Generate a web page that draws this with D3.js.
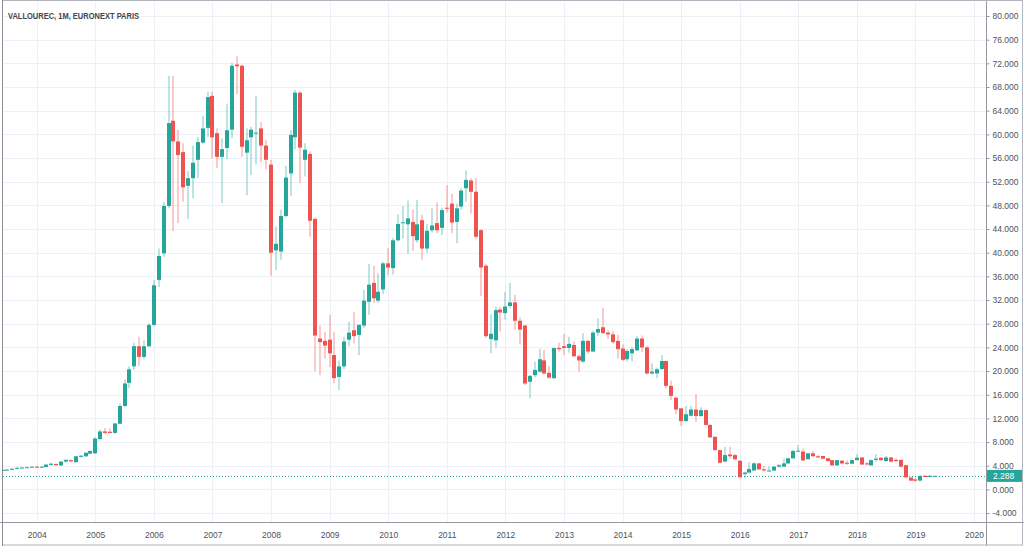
<!DOCTYPE html>
<html><head><meta charset="utf-8">
<script src="https://cdn.jsdelivr.net/npm/d3@7"></script>
<style>html,body{margin:0;padding:0;background:#fff;} svg{display:block;}</style>
</head><body>
<svg id="chart" width="1024" height="546"></svg>
<script>
// ---- DATA (monthly candles, Vallourec, Euronext Paris) ----
const months = [
 "2003-06","2003-07","2003-08","2003-09","2003-10","2003-11","2003-12",
 "2004-01","2004-02","2004-03","2004-04","2004-05","2004-06","2004-07","2004-08","2004-09","2004-10","2004-11","2004-12",
 "2005-01","2005-02","2005-03","2005-04","2005-05","2005-06","2005-07","2005-08","2005-09","2005-10","2005-11","2005-12",
 "2006-01","2006-02","2006-03","2006-04","2006-05","2006-06","2006-07","2006-08","2006-09","2006-10","2006-11","2006-12",
 "2007-01","2007-02","2007-03","2007-04","2007-05","2007-06","2007-07","2007-08","2007-09","2007-10","2007-11","2007-12",
 "2008-01","2008-02","2008-03","2008-04","2008-05","2008-06","2008-07","2008-08","2008-09","2008-10","2008-11","2008-12",
 "2009-01","2009-02","2009-03","2009-04","2009-05","2009-06","2009-07","2009-08","2009-09","2009-10","2009-11","2009-12",
 "2010-01","2010-02","2010-03","2010-04","2010-05","2010-06","2010-07","2010-08","2010-09","2010-10","2010-11","2010-12",
 "2011-01","2011-02","2011-03","2011-04","2011-05","2011-06","2011-07","2011-08","2011-09","2011-10","2011-11","2011-12",
 "2012-01","2012-02","2012-03","2012-04","2012-05","2012-06","2012-07","2012-08","2012-09","2012-10","2012-11","2012-12",
 "2013-01","2013-02","2013-03","2013-04","2013-05","2013-06","2013-07","2013-08","2013-09","2013-10","2013-11","2013-12",
 "2014-01","2014-02","2014-03","2014-04","2014-05","2014-06","2014-07","2014-08","2014-09","2014-10","2014-11","2014-12",
 "2015-01","2015-02","2015-03","2015-04","2015-05","2015-06","2015-07","2015-08","2015-09","2015-10","2015-11","2015-12",
 "2016-01","2016-02","2016-03","2016-04","2016-05","2016-06","2016-07","2016-08","2016-09","2016-10","2016-11","2016-12",
 "2017-01","2017-02","2017-03","2017-04","2017-05","2017-06","2017-07","2017-08","2017-09","2017-10","2017-11","2017-12",
 "2018-01","2018-02","2018-03","2018-04","2018-05","2018-06","2018-07","2018-08","2018-09","2018-10","2018-11","2018-12",
 "2019-01","2019-02","2019-03","2019-04","2019-05"
];
const open = [
 3.2,3.3,3.35,3.5,3.65,3.7,3.75,
 3.85,3.75,3.8,4.15,4.3,4.05,4.7,4.95,4.6,5.5,5.6,6.05,
 6.1,8.5,9.8,9.75,9.55,11.1,14.1,18.0,20.8,24.2,22.4,24.2,
 27.8,35.4,39.9,47.9,62.3,58.8,57.0,51.3,52.6,55.7,58.6,61.1,
 66.5,60.2,56.2,57.7,60.8,71.8,71.6,56.9,59.5,60.2,61.0,58.1,
 54.9,40.4,40.2,46.2,53.4,59.5,67.05,55.7,56.7,45.7,25.5,25.1,
 25.3,22.7,19.0,20.8,25.3,26.9,26.1,27.7,31.7,34.9,31.9,33.8,
 38.2,37.4,42.1,45.0,44.8,45.2,42.1,45.5,40.7,43.8,45.0,44.2,
 47.6,48.3,45.2,47.8,50.9,52.2,50.3,43.8,37.8,25.4,25.2,30.4,
 29.8,31.0,31.6,28.5,27.7,18.2,19.3,19.9,21.8,19.7,18.8,23.9,
 24.2,23.9,24.4,22.5,21.6,25.1,23.3,26.5,27.4,26.5,26.2,25.1,
 23.8,22.0,23.0,23.5,25.5,24.0,19.6,19.6,20.35,21.7,17.5,15.5,
 13.7,11.55,12.45,13.5,12.4,13.4,10.9,8.9,6.65,4.7,5.9,5.8,
 4.85,2.6,2.85,3.2,4.4,3.4,3.05,3.2,3.85,3.85,4.4,5.25,
 6.4,6.4,5.1,6.1,5.6,5.65,5.25,4.95,4.06,4.85,4.5,4.35,
 4.95,5.4,4.4,4.06,5.0,5.35,4.8,5.4,5.0,5.0,4.1,2.0,
 1.7,1.5,2.3,2.1,2.27
];
const high = [
 3.4,3.45,3.6,3.75,3.8,3.85,3.9,
 3.95,3.9,4.25,4.45,4.4,4.75,5.05,5.05,5.65,5.8,6.25,6.6,
 8.8,10.1,10.4,10.3,11.2,14.5,18.6,20.8,24.8,25.8,25.2,28.1,
 35.4,40.7,48.6,69.9,69.9,60.8,58.5,53.8,58.1,59.5,63.1,67.2,
 67.2,61.0,59.3,65.2,72.1,73.2,71.8,61.0,61.3,66.5,62.1,59.0,
 55.7,44.4,47.3,54.7,60.7,67.5,67.3,58.5,57.1,46.0,27.7,26.6,
 29.5,26.6,21.8,25.8,28.3,30.0,27.9,33.7,38.1,37.8,36.5,38.5,
 40.8,42.5,46.5,47.9,48.8,47.3,48.9,46.4,44.9,47.5,48.5,47.6,
 51.4,50.0,48.3,50.9,53.9,52.6,52.6,44.0,38.0,29.6,30.9,30.9,
 33.4,34.9,32.9,29.1,27.8,19.3,21.6,23.8,23.6,20.8,23.9,24.8,
 26.3,25.8,25.0,22.8,26.4,25.2,26.8,28.9,30.7,26.9,26.8,26.1,
 24.5,23.7,24.1,25.9,26.0,24.3,21.3,20.6,22.7,21.8,18.4,15.6,
 13.7,14.1,14.1,16.1,13.9,13.5,11.0,8.9,6.7,7.2,7.2,6.0,
 4.9,3.0,4.6,4.6,4.5,3.95,3.9,3.95,4.3,5.25,5.4,6.65,
 7.5,6.9,6.2,6.5,5.8,5.65,5.4,4.95,4.95,4.95,4.95,5.05,
 5.98,5.5,4.6,5.05,5.98,5.5,5.65,5.5,5.25,5.0,4.2,2.1,
 1.85,2.3,2.4,2.45,2.35
];
const low = [
 3.1,3.1,3.3,3.4,3.55,3.6,3.65,
 3.7,3.65,3.7,4.05,4.0,4.0,4.6,4.6,4.55,5.4,5.5,5.95,
 6.0,8.4,9.4,9.5,9.4,11.0,13.9,17.1,20.2,20.9,22.0,24.0,
 27.5,34.2,39.3,47.5,43.7,45.0,48.6,45.7,49.2,52.6,58.4,59.5,
 55.9,54.3,48.4,55.8,59.4,66.8,56.2,49.7,53.1,54.9,55.3,54.1,
 36.1,37.1,38.8,46.0,49.6,57.5,51.8,52.9,42.7,20.0,19.3,22.1,
 20.7,17.9,16.8,20.3,24.2,24.7,22.7,27.3,29.5,31.5,31.5,33.0,
 36.2,36.3,41.9,42.4,39.8,40.3,41.7,38.8,40.0,43.4,43.3,43.0,
 46.8,43.3,41.6,47.3,48.6,46.6,42.4,32.7,25.6,23.0,24.0,26.7,
 28.7,30.6,27.0,24.5,17.6,15.4,18.9,19.7,19.4,18.7,18.6,23.3,
 22.7,23.1,22.4,19.9,21.4,22.9,23.2,25.9,26.3,25.4,24.6,22.1,
 21.7,21.6,21.6,23.4,23.2,19.4,19.4,18.8,20.2,17.1,15.1,12.7,
 10.7,11.4,12.3,11.4,12.3,10.8,8.7,6.55,4.4,4.6,5.2,5.0,
 2.0,1.9,2.7,3.1,3.3,3.0,3.05,3.1,3.7,3.75,4.3,5.25,
 6.3,4.8,5.1,5.6,5.4,5.1,4.7,4.06,4.06,4.25,4.15,4.25,
 4.95,4.2,4.1,4.06,4.65,4.85,4.65,4.55,4.7,3.7,1.9,1.48,
 1.3,1.3,2.1,2.05,2.2
];
const close = [
 3.3,3.35,3.5,3.65,3.7,3.75,3.85,
 3.75,3.85,4.2,4.35,4.1,4.7,5.0,4.75,5.6,5.7,6.2,6.5,
 8.6,9.8,9.55,9.55,11.15,14.1,17.9,20.3,24.2,22.4,24.2,27.8,
 34.5,39.45,47.9,61.9,58.8,56.5,51.05,52.6,55.2,58.7,61.0,66.3,
 59.5,56.2,57.5,60.7,71.6,71.5,57.9,59.0,60.8,60.3,58.1,55.7,
 40.0,41.5,46.2,52.7,59.9,67.05,57.75,57.4,45.4,26.0,24.9,24.3,
 23.0,18.8,20.8,25.0,26.5,25.9,27.8,31.9,34.6,32.3,33.4,38.2,
 37.5,42.1,44.85,45.15,45.8,42.8,44.8,40.7,43.7,44.6,43.8,47.2,
 47.5,45.1,47.5,50.5,52.3,50.3,42.7,37.5,25.9,26.3,30.3,29.9,
 30.9,31.6,28.5,27.0,17.9,19.2,20.2,22.0,19.6,18.9,23.9,23.7,
 23.9,24.6,22.5,21.8,25.1,23.3,26.5,27.1,26.4,26.2,24.9,23.7,
 21.9,23.4,23.7,25.5,24.0,19.6,19.9,20.3,21.7,17.5,15.8,13.5,
 11.55,12.7,13.5,12.4,13.4,10.9,8.8,6.65,4.5,5.8,5.6,5.1,
 2.05,2.85,3.45,4.4,3.4,3.2,3.2,3.85,4.1,4.4,5.25,6.5,
 6.55,4.9,6.1,5.6,5.4,5.2,4.8,4.06,4.95,4.4,4.4,4.95,
 5.35,4.2,4.25,4.95,5.2,4.95,5.4,4.7,4.8,3.85,2.04,1.48,
 1.48,2.3,2.1,2.29,2.288
];
const yTicks = [-4,0,4,8,12,16,20,24,28,32,36,40,44,48,52,56,60,64,68,72,76,80];
const yearTicks = [2004,2005,2006,2007,2008,2009,2010,2011,2012,2013,2014,2015,2016,2017,2018,2019,2020];
const title = "VALLOUREC, 1M, EURONEXT PARIS";
const lastPrice = 2.288;

// ---- LAYOUT ----
const W = 1024, H = 546;
const plot = {left: 3, top: 2, right: 986, bottom: 522};
const UP = "#26a69a", DOWN = "#ef5350", GRID = "#edf0f4", TEXT = "#4c525e", BORDER = "#9598a1";
const FONT = "'Liberation Sans', Arial, sans-serif";

const monthIndex = m => { const p = m.split("-").map(Number); return (p[0] - 2004) * 12 + (p[1] - 1); };
const x = d3.scaleLinear().domain([0, 192]).range([36.7, 974]);
const y = d3.scaleLinear().domain([-4, 80]).range([513.1, 16]);

const candles = months.map((m, i) => ({m, i: monthIndex(m), o: open[i], h: high[i], l: low[i], c: close[i]}));

const svg = d3.select("#chart");
svg.append("rect").attr("width", W).attr("height", H).attr("fill", "#fff");

svg.append("defs").append("clipPath").attr("id", "clip")
  .append("rect").attr("x", plot.left).attr("y", plot.top)
  .attr("width", plot.right - plot.left).attr("height", plot.bottom - plot.top);

// grid
const grid = svg.append("g").attr("clip-path", "url(#clip)");
grid.selectAll("line.h").data(yTicks).join("line").attr("class", "h")
  .attr("x1", plot.left).attr("x2", plot.right)
  .attr("y1", d => Math.round(y(d)) + 0.5).attr("y2", d => Math.round(y(d)) + 0.5)
  .attr("stroke", GRID).attr("stroke-width", 1);
grid.selectAll("line.v").data(yearTicks).join("line").attr("class", "v")
  .attr("x1", d => Math.round(x((d - 2004) * 12)) + 0.5).attr("x2", d => Math.round(x((d - 2004) * 12)) + 0.5)
  .attr("y1", plot.top).attr("y2", plot.bottom)
  .attr("stroke", GRID).attr("stroke-width", 1);

// price line
grid.append("line")
  .attr("x1", plot.left).attr("x2", plot.right)
  .attr("y1", Math.round(y(lastPrice)) + 0.5).attr("y2", Math.round(y(lastPrice)) + 0.5)
  .attr("stroke", UP).attr("stroke-width", 1).attr("stroke-dasharray", "1,2");

// candles
const cg = svg.append("g").attr("clip-path", "url(#clip)");
const bodyW = 4;
const g = cg.selectAll("g.c").data(candles).join("g").attr("class", "c");
g.append("rect")
  .attr("x", d => Math.round(x(d.i)) - 0.5)
  .attr("width", 1)
  .attr("y", d => y(d.h)).attr("height", d => Math.max(1, y(d.l) - y(d.h)))
  .attr("fill", d => d.c >= d.o ? UP : DOWN).attr("opacity", 0.6);
g.append("rect")
  .attr("x", d => Math.round(x(d.i) - bodyW / 2))
  .attr("width", bodyW)
  .attr("y", d => y(Math.max(d.o, d.c)))
  .attr("height", d => Math.max(1, Math.abs(y(d.o) - y(d.c))))
  .attr("fill", d => d.c >= d.o ? UP : DOWN);

// axes frame
svg.append("line").attr("x1", plot.right + 0.5).attr("x2", plot.right + 0.5)
  .attr("y1", 0).attr("y2", H).attr("stroke", BORDER);
svg.append("line").attr("x1", 0).attr("x2", W)
  .attr("y1", plot.bottom + 0.5).attr("y2", plot.bottom + 0.5).attr("stroke", BORDER);
svg.append("rect").attr("x", 2.5).attr("y", 0.5).attr("width", W - 4).attr("height", H - 1.5)
  .attr("fill", "none").attr("stroke", "#b2b5be");
svg.append("line").attr("x1", 2.5).attr("x2", 2.5).attr("y1", 0).attr("y2", H).attr("stroke", "#8a8d96");

// right price axis
const ya = svg.append("g").attr("transform", `translate(${plot.right + 0.5},0)`)
  .call(d3.axisRight(y).tickValues(yTicks).tickSize(3).tickPadding(3).tickFormat(d => d.toFixed(3)));
ya.select(".domain").remove();
ya.selectAll(".tick line").attr("stroke", BORDER);
ya.selectAll("text").attr("fill", TEXT).style("font-family", FONT).style("font-size", "8.5px");

// bottom time axis
const xa = svg.append("g").attr("transform", `translate(0,${plot.bottom + 0.5})`)
  .call(d3.axisBottom(x).tickValues(yearTicks.map(d => (d - 2004) * 12)).tickSize(0).tickPadding(9)
    .tickFormat((d, i) => String(yearTicks[i])));
xa.select(".domain").remove();
xa.selectAll("text").attr("fill", TEXT).style("font-family", FONT).style("font-size", "8.5px");

// last price label
const lp = svg.append("g").attr("transform", `translate(${plot.right + 1},${y(lastPrice)})`);
lp.append("rect").attr("x", 0).attr("y", -6).attr("width", 35).attr("height", 12).attr("fill", UP);
lp.append("text").attr("x", 6).attr("y", 0).attr("dy", "0.35em").attr("fill", "#fff")
  .style("font-family", FONT).style("font-size", "8.5px").text(lastPrice.toFixed(3));

// title
svg.append("text").attr("x", 8).attr("y", 18.5).attr("fill", "#434651")
  .attr("textLength", 131).attr("lengthAdjust", "spacingAndGlyphs")
  .style("font-family", FONT).style("font-size", "8.6px").style("font-weight", "bold").text(title);
</script>
</body></html>
